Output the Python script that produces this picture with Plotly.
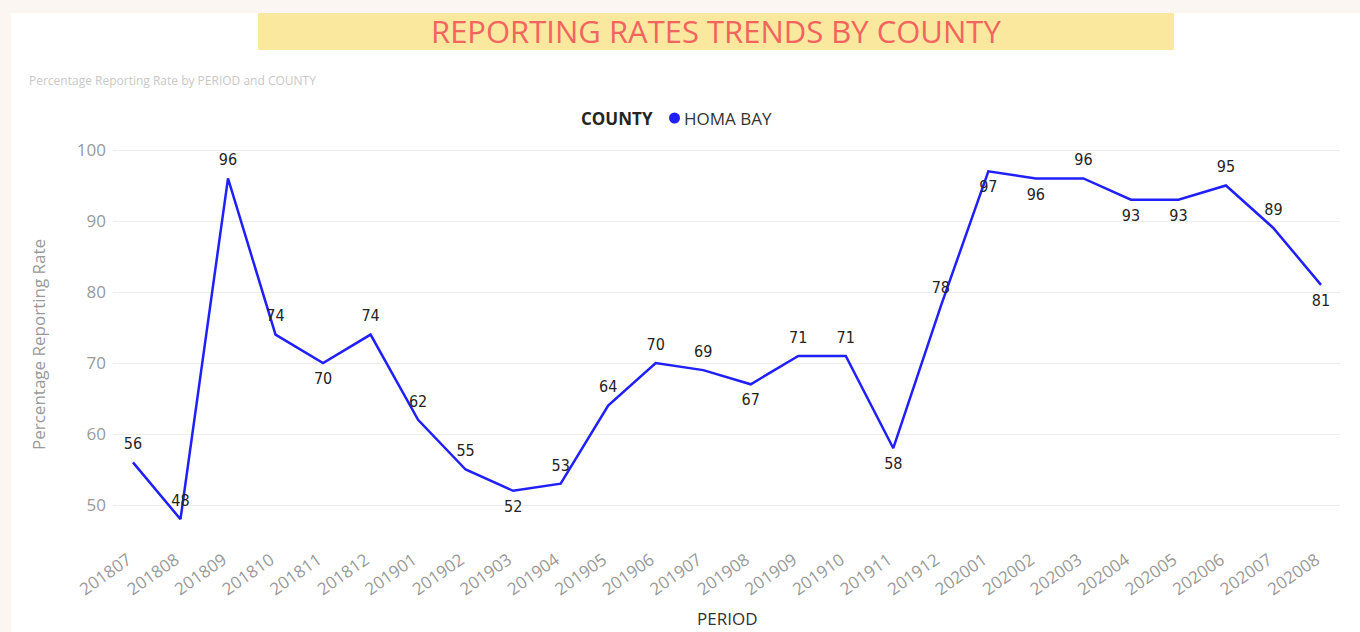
import plotly.graph_objects as go

periods = ["201807", "201808", "201809", "201810", "201811", "201812",
           "201901", "201902", "201903", "201904", "201905", "201906",
           "201907", "201908", "201909", "201910", "201911", "201912",
           "202001", "202002", "202003", "202004", "202005", "202006",
           "202007", "202008"]
rates = [56, 48, 96, 74, 70, 74, 62, 55, 52, 53, 64, 70, 69, 67, 71, 71,
         58, 78, 97, 96, 96, 93, 93, 95, 89, 81]
label_pos = ["top center", "top center", "top center", "top center", "bottom center",
             "top center", "top center", "top center", "bottom center", "top center",
             "top center", "top center", "top center", "bottom center", "top center",
             "top center", "bottom center", "top center", "bottom center", "bottom center",
             "top center", "bottom center", "bottom center", "top center", "top center",
             "bottom center"]
county = "HOMA BAY"
y_ticks = [50, 60, 70, 80, 90, 100]

W, H = 1360, 632
L, R, T, B = 113, 1340, 140, 538  # plot area in px
Y_TOP = 100 + (150 - T) / 7.1
Y_BOT = 50 - (B - 505) / 7.1


def px(x):
    return (x - L) / (R - L)


def py(y):
    return (B - y) / (B - T)


LINE = "#1F1FFF"
fig = go.Figure()
fig.add_trace(go.Scatter(
    x=periods, y=rates, mode="lines+markers+text", text=[str(v) for v in rates],
    textposition=label_pos, line=dict(color=LINE, width=2.5),
    marker=dict(size=13, color="rgba(0,0,0,0)"),
    textfont=dict(family="DejaVu Sans Condensed", size=16, color="#252423"),
    showlegend=False, cliponaxis=False, hoverinfo="x+y"))

shapes = [
    dict(type="rect", xref="paper", yref="paper", x0=px(0), x1=px(11), y0=py(H), y1=py(0),
         fillcolor="#FCF6F2", line=dict(width=0), layer="below"),
    dict(type="rect", xref="paper", yref="paper", x0=px(0), x1=px(W), y0=py(13), y1=py(0),
         fillcolor="#FCF6F2", line=dict(width=0), layer="below"),
    dict(type="rect", xref="paper", yref="paper", x0=px(258), x1=px(1174), y0=py(50), y1=py(13),
         fillcolor="#FAE89E", line=dict(width=0), layer="below"),
    dict(type="circle", xref="paper", yref="paper", x0=px(669), x1=px(680), y0=py(123.5), y1=py(112.5),
         fillcolor=LINE, line=dict(width=0)),
]

annotations = [
    dict(text="REPORTING RATES TRENDS BY COUNTY", xref="paper", yref="paper",
         x=px(716), y=py(31), showarrow=False, xanchor="center", yanchor="middle",
         font=dict(family="Open Sans", size=31, color="#F4645F")),
    dict(text="Percentage Reporting Rate by PERIOD and COUNTY", xref="paper", yref="paper",
         x=px(27), y=py(81), showarrow=False, xanchor="left", yanchor="middle",
         font=dict(family="Open Sans", size=12, color="#C8C8C8")),
    dict(text="<b>COUNTY</b>", xref="paper", yref="paper",
         x=px(579), y=py(118), showarrow=False, xanchor="left", yanchor="middle",
         font=dict(family="Open Sans", size=17, color="#252423")),
    dict(text=county, xref="paper", yref="paper",
         x=px(682), y=py(118), showarrow=False, xanchor="left", yanchor="middle",
         font=dict(family="Open Sans", size=17, color="#333333")),
    dict(text="PERIOD", xref="paper", yref="paper",
         x=px(727), y=py(632), showarrow=False, xanchor="center", yanchor="bottom",
         font=dict(family="Open Sans", size=17, color="#333333")),
    dict(text="Percentage Reporting Rate", xref="paper", yref="paper", textangle=-90,
         x=px(38), y=py(345), showarrow=False, xanchor="center", yanchor="middle",
         font=dict(family="Open Sans", size=17, color="#999999")),
]

fig.update_layout(
    width=W, height=H,
    margin=dict(l=L, r=W - R, t=T, b=H - B, pad=0),
    paper_bgcolor="white", plot_bgcolor="white",
    shapes=shapes, annotations=annotations,
    showlegend=False,
    xaxis=dict(type="category", categoryorder="array", categoryarray=periods,
               range=[-0.42, 25.4], tickangle=-35, showgrid=False, showline=False,
               zeroline=False, ticks="", automargin=False,
               ticklabelstandoff=8, ticklabelshift=-5,
               tickfont=dict(family="Open Sans", size=17, color="#999999")),
    yaxis=dict(range=[Y_BOT, Y_TOP], tickvals=y_ticks, showgrid=True, gridcolor="#EDEDED",
               gridwidth=1, zeroline=False, showline=False, ticks="", automargin=False,
               ticklabelstandoff=6,
               tickfont=dict(family="Open Sans", size=17, color="#999999")),
)

fig.write_html("out.html", config={"displayModeBar": False},
               post_script="document.body.style.margin='0';document.body.style.overflow='hidden';")
